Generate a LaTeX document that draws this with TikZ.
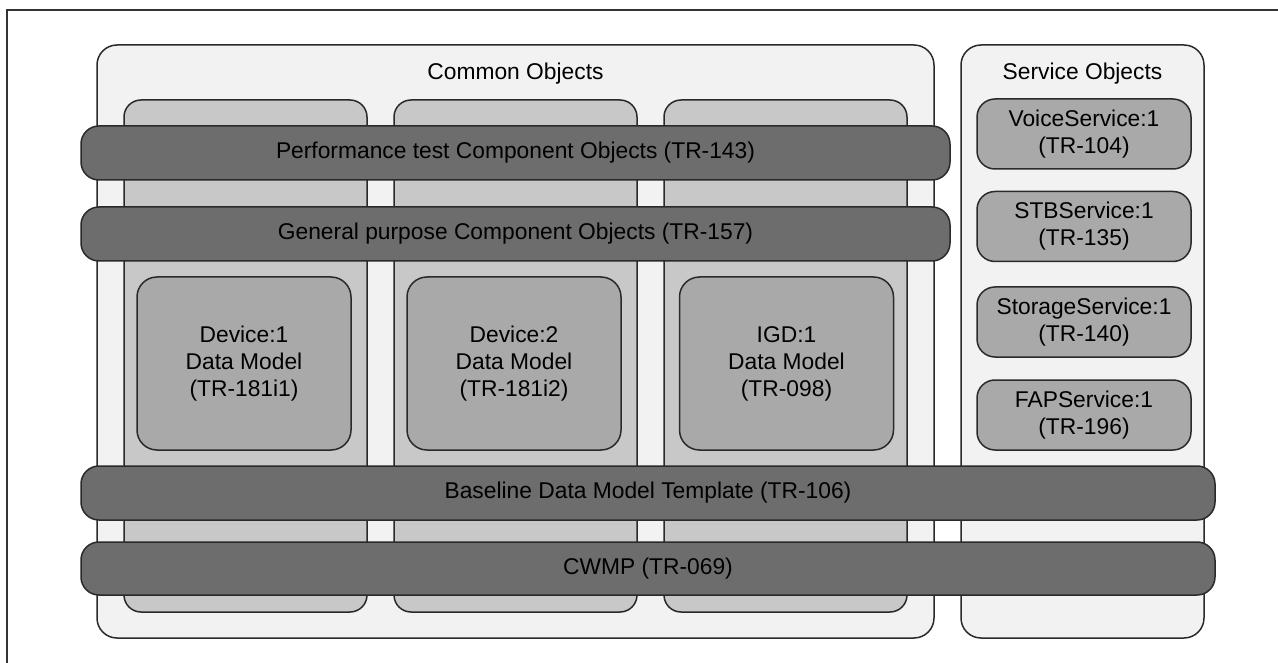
\documentclass[tikz,border=0pt]{standalone}
\usepackage{fontspec}
\setmainfont{Liberation Sans}
\definecolor{frameC}{HTML}{333333}
\definecolor{outerF}{HTML}{F2F2F2}
\definecolor{colF}{HTML}{C8C8C8}
\definecolor{innerF}{HTML}{A9A9A9}
\definecolor{barF}{HTML}{6D6D6D}
\definecolor{edgeC}{HTML}{2A2A2A}
\tikzset{
  base/.style={draw=edgeC, line width=1.5pt, inner sep=0pt, outer sep=0pt, align=center,
    font=\fontsize{22.8}{27}\selectfont, text=black},
  outerbox/.style={base, fill=outerF, rounded corners=20pt},
  colbox/.style={base, fill=colF, rounded corners=17pt},
  innerbox/.style={base, fill=innerF, rounded corners=20pt},
  barbox/.style={base, fill=barF, rounded corners=18pt},
  svcbox/.style={base, fill=innerF, rounded corners=18pt},
  lbl/.style={inner sep=0pt, font=\fontsize{22.8}{27}\selectfont, text=black}
}
\begin{document}
\begin{tikzpicture}[x=1pt,y=-1pt]
\useasboundingbox (0,0) rectangle (1278,663);
\begin{scope}
\clip (0,0) rectangle (1278,663);
\draw[frameC, line width=2pt] (7,10) rectangle (1300,700);
\end{scope}
% containers
\node[outerbox, minimum width=837pt, minimum height=593pt] (common) at (515.5,341.5) {};
\node[outerbox, minimum width=243pt, minimum height=593pt] (service) at (1082.5,341.5) {};
\node[lbl] (commonlbl) at (515.5,74) {Common Objects};
\node[lbl] (servicelbl) at (1082.5,74) {Service Objects};
% columns
\node[colbox, minimum width=243pt, minimum height=512pt] (col1) at (245.5,356) {};
\node[colbox, minimum width=243pt, minimum height=512pt] (col2) at (515.5,356) {};
\node[colbox, minimum width=243pt, minimum height=512pt] (col3) at (785.5,356) {};
% inner data models
\node[innerbox, minimum width=214pt, minimum height=173pt] (dev1) at (244,363.5) {Device:1\\Data Model\\(TR-181i1)};
\node[innerbox, minimum width=214pt, minimum height=173pt] (dev2) at (514,363.5) {Device:2\\Data Model\\(TR-181i2)};
\node[innerbox, minimum width=214pt, minimum height=173pt] (igd) at (786.5,363.5) {IGD:1\\Data Model\\(TR-098)};
% bars
\node[barbox, minimum width=869pt, minimum height=54pt] (perf) at (515.5,153) {Performance test Component Objects (TR-143)};
\node[barbox, minimum width=869pt, minimum height=54pt] (gen) at (515.5,234) {General purpose Component Objects (TR-157)};
\node[barbox, minimum width=1134pt, minimum height=54pt] (baseline) at (648,493) {Baseline Data Model Template (TR-106)};
\node[barbox, minimum width=1134pt, minimum height=53pt] (cwmp) at (648,568.5) {CWMP (TR-069)};
% service items
\node[svcbox, minimum width=214pt, minimum height=70pt] (voice) at (1084,134) {VoiceService:1\\(TR-104)};
\node[svcbox, minimum width=214pt, minimum height=70pt] (stb) at (1084,226.5) {STBService:1\\(TR-135)};
\node[svcbox, minimum width=214pt, minimum height=70pt] (storage) at (1084,322) {StorageService:1\\(TR-140)};
\node[svcbox, minimum width=214pt, minimum height=70pt] (fap) at (1084,415) {FAPService:1\\(TR-196)};
\end{tikzpicture}
\end{document}
